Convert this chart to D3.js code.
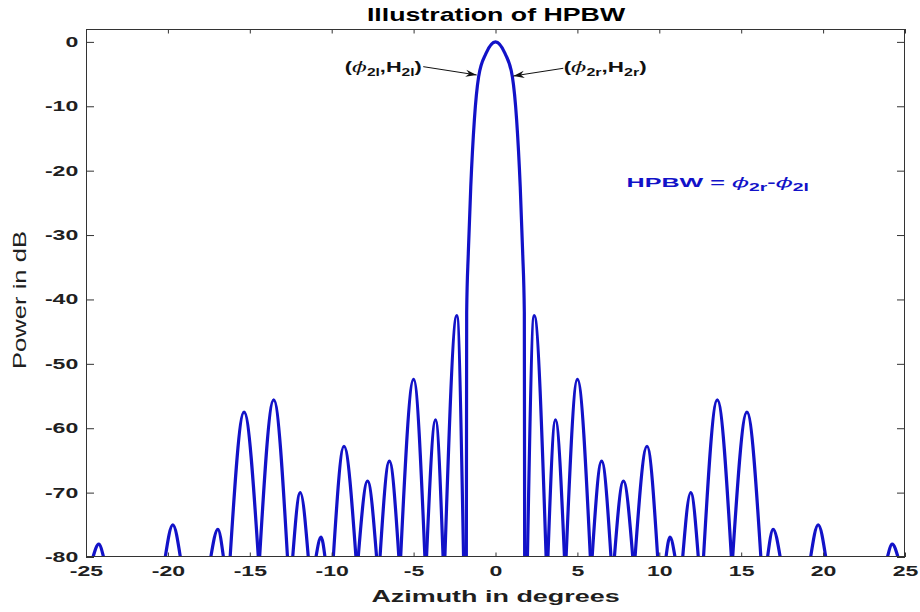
<!DOCTYPE html>
<html><head><meta charset="utf-8">
<script src="https://cdn.jsdelivr.net/npm/d3@7"></script>
<style>
html,body{margin:0;padding:0;background:#fff;}
svg{display:block;font-family:"Liberation Sans",Arial,Helvetica,sans-serif;}
</style></head><body>
<svg id="chart" width="920" height="612"></svg>
<script>
// ---------------- data ----------------
const chartTitle = "Illustration of HPBW";
const xAxisLabel = "Azimuth in degrees";
const yAxisLabel = "Power in dB";
const xDomain = [-25, 25];
const yDomain = [-80, 2];
const xTickValues = [-25, -20, -15, -10, -5, 0, 5, 10, 15, 20, 25];
const xTickLabels = ["-25", "-20", "-15", "-10", "-5", "0", "5", "10", "15", "20", "25"];
const yTickValues = [0, -10, -20, -30, -40, -50, -60, -70, -80];
const yTickLabels = ["0", "-10", "-20", "-30", "-40", "-50", "-60", "-70", "-80"];

// side lobes: azimuth where the lobe leaves the -80 dB floor, peak azimuth, peak power, azimuth where it returns
const lobeLeftEdge  = [-24.57, -20.16, -17.38, -16.20, -14.40, -12.38, -10.96, -9.90, -8.38, -7.05, -5.79, -4.21, -3.09,
                         1.95,   3.20,   4.31,   5.90,   7.26,   8.52,  10.41,  11.43, 12.70, 14.48, 16.61, 19.24, 23.93];
const lobePeakAz    = [-24.22, -19.70, -16.95, -15.35, -13.54, -11.92, -10.65, -9.25, -7.81, -6.48, -5.00, -3.66, -2.36,
                         2.36,   3.66,   5.00,   6.48,   7.81,   9.25,  10.65,  11.92, 13.54, 15.35, 16.95, 19.70, 24.22];
const lobePeakDb    = [-78.0, -75.0, -75.7, -57.5, -55.6, -70.0, -76.9, -62.8, -68.2, -65.1, -52.4, -58.7, -42.5,
                       -42.5, -58.7, -52.4, -65.1, -68.2, -62.8, -76.9, -70.0, -55.6, -57.5, -75.7, -75.0, -78.0];
const lobeRightEdge = [-23.93, -19.24, -16.61, -14.48, -12.70, -11.43, -10.41, -8.52, -7.26, -5.90, -4.31, -3.20, -1.95,
                         3.09,   4.21,   5.79,   7.05,   8.38,   9.90,  10.96,  12.38, 14.40, 16.20, 17.38, 20.16, 24.57];
// main lobe samples
const mainLobeAz = [-1.78, -1.76, -1.66, -1.51, -1.29, -1.03, -0.58, 0, 0.58, 1.03, 1.29, 1.51, 1.66, 1.76, 1.78];
const mainLobeDb = [-80, -42.0, -32.8, -22.5, -12.1, -5.4, -1.8, 0, -1.8, -5.4, -12.1, -22.5, -32.8, -42.0, -80];

// annotations (data coordinates)
const leftNote  = {text: ["(", "ϕ", "2l", ",H", "2l", ")"], az: -4.50, db: -4.63, fromAz: -4.41, fromDb: -3.85, toAz: -1.15, toDb: -5.14};
const rightNote = {text: ["(", "ϕ", "2r", ",H", "2r", ")"], az: 4.16, db: -4.63, fromAz: 4.14, fromDb: -4.10, toAz: 1.09, toDb: -5.30};
const hpbwNote  = {az: 8.0, db: -22.6};

// ---------------- drawing ----------------
const W = 920, H = 612;
const L = 86, R = 905, T = 29, B = 557;
const curveColor = "#1212c8";
const axisColor = "#333333";
const textColor = "#1f1f1f";

const x = d3.scaleLinear().domain(xDomain).range([L, R]);
const y = d3.scaleLinear().domain(yDomain).range([B, T]);

const svg = d3.select("#chart");
svg.append("rect").attr("width", W).attr("height", H).attr("fill", "#fff");

const defs = svg.append("defs");
defs.append("clipPath").attr("id", "plotClip")
  .append("rect").attr("x", L).attr("y", T).attr("width", R - L).attr("height", B - T);
defs.append("marker").attr("id", "arrowHead")
  .attr("viewBox", "-12 -6 14 12").attr("refX", 0).attr("refY", 0)
  .attr("markerWidth", 14).attr("markerHeight", 12).attr("markerUnits", "userSpaceOnUse")
  .attr("orient", "auto")
  .append("path").attr("d", "M0,0 L-11,-3.6 L-7.5,0 L-11,3.6 Z").attr("fill", "#111");

// lobes
const line = d3.line().x(d => x(d[0])).y(d => y(d[1])).curve(d3.curveMonotoneX);
const lobes = lobePeakAz.map((p, i) => [[lobeLeftEdge[i], yDomain[0]], [p, lobePeakDb[i]], [lobeRightEdge[i], yDomain[0]]]);
lobes.push(d3.zip(mainLobeAz, mainLobeDb));
svg.append("g").attr("clip-path", "url(#plotClip)")
  .selectAll("path").data(lobes).join("path")
  .attr("d", line).attr("fill", "none").attr("stroke", curveColor)
  .attr("stroke-width", 3.2).attr("stroke-linejoin", "round");

// axes
const sx = 1.65;
const gB = svg.append("g").attr("transform", `translate(0,${B})`)
  .call(d3.axisBottom(x).tickValues(xTickValues).tickFormat((d, i) => xTickLabels[i])
    .tickSizeInner(-4.5).tickSizeOuter(0).tickPadding(9.5));
const gT = svg.append("g").attr("transform", `translate(0,${T})`)
  .call(d3.axisTop(x).tickValues(xTickValues).tickFormat("").tickSizeInner(-4.5).tickSizeOuter(0));
const gL = svg.append("g").attr("transform", `translate(${L},0)`)
  .call(d3.axisLeft(y).tickValues(yTickValues).tickFormat((d, i) => yTickLabels[i])
    .tickSizeInner(-8).tickSizeOuter(0).tickPadding(4.7));
const gR = svg.append("g").attr("transform", `translate(${R},0)`)
  .call(d3.axisRight(y).tickValues(yTickValues).tickFormat("").tickSizeInner(-8).tickSizeOuter(0));
[gB, gT, gL, gR].forEach(g => {
  g.select(".domain").remove();
  g.selectAll("line").attr("stroke", axisColor);
  g.selectAll("text").attr("font-size", 14).attr("font-weight", "bold")
    .attr("font-family", "Liberation Sans, Arial, sans-serif").attr("fill", textColor)
    .attr("transform", `scale(${sx},1)`);
});
svg.append("rect").attr("x", L + 0.5).attr("y", T + 0.5).attr("width", R - L - 1).attr("height", B - T - 1)
  .attr("fill", "none").attr("stroke", axisColor).attr("stroke-width", 1);

// helper for horizontally stretched text
function stretched(px, py, anchor, width, build) {
  const g = svg.append("g");
  const t = g.append("text").attr("text-anchor", anchor);
  build(t);
  const w = t.node().getBBox().width;
  g.attr("transform", `translate(${px},${py}) scale(${width / w},1)`);
  return t;
}

// title
stretched(496, 21, "middle", 259, t => t.attr("font-size", 17.5).attr("font-weight", "bold").attr("fill", "#000").text(chartTitle));
// x label
stretched(495.5, 601.5, "middle", 248, t => t.attr("font-size", 16.3).attr("font-weight", "bold").attr("fill", textColor).text(xAxisLabel));
// y label (rotated)
{
  const g = svg.append("g");
  const t = g.append("text").attr("text-anchor", "middle").attr("font-size", 14).attr("fill", textColor).text(yAxisLabel);
  const w = t.node().getBBox().width;
  g.attr("transform", `translate(26,300) rotate(-90) scale(${138 / w},1.25)`);
}

// annotations
function note(t, parts, color) {
  t.attr("font-size", 14).attr("font-weight", "bold").attr("fill", color);
  t.append("tspan").text(parts[0]);
  t.append("tspan").attr("font-family", "DejaVu Serif, Liberation Serif, serif").attr("font-style", "italic")
    .attr("font-weight", "normal").text(parts[1]);
  t.append("tspan").attr("font-size", 10).attr("dy", 4).text(parts[2]);
  t.append("tspan").attr("dy", -4).text(parts[3]);
  t.append("tspan").attr("font-size", 10).attr("dy", 4).text(parts[4]);
  t.append("tspan").attr("dy", -4).text(parts[5]);
}
stretched(x(leftNote.az), y(leftNote.db), "end", 77, t => note(t, leftNote.text, "#111"));
stretched(x(rightNote.az), y(rightNote.db), "start", 83, t => note(t, rightNote.text, "#111"));
[leftNote, rightNote].forEach(n => {
  svg.append("line").attr("x1", x(n.fromAz)).attr("y1", y(n.fromDb)).attr("x2", x(n.toAz)).attr("y2", y(n.toDb))
    .attr("stroke", "#111").attr("stroke-width", 1).attr("marker-end", "url(#arrowHead)");
});
stretched(x(hpbwNote.az), y(hpbwNote.db), "start", 183, t => {
  t.attr("font-size", 13).attr("font-weight", "bold").attr("fill", curveColor);
  t.append("tspan").text("HPBW = ");
  t.append("tspan").attr("font-family", "DejaVu Serif, Liberation Serif, serif").attr("font-style", "italic").attr("font-weight", "normal").text("ϕ");
  t.append("tspan").attr("font-size", 10).attr("dy", 4).text("2r");
  t.append("tspan").attr("dy", -4).text("-");
  t.append("tspan").attr("font-family", "DejaVu Serif, Liberation Serif, serif").attr("font-style", "italic").attr("font-weight", "normal").text("ϕ");
  t.append("tspan").attr("font-size", 10).attr("dy", 4).text("2l");
});
</script></body></html>
